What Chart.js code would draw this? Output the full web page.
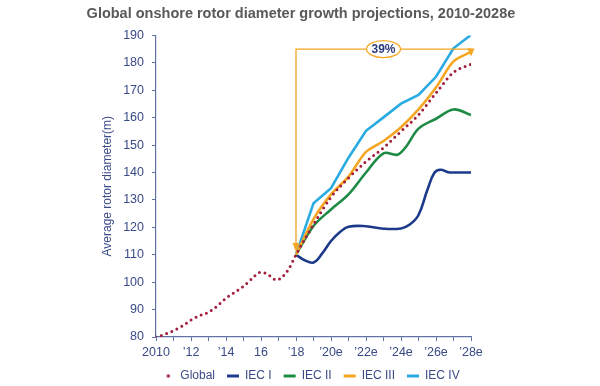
<!DOCTYPE html>
<html>
<head>
<meta charset="utf-8">
<script src="https://cdn.jsdelivr.net/npm/chart.js@4.4.1/dist/chart.umd.min.js"></script>
<style>
  html, body { margin: 0; padding: 0; background: #fff; }
  #wrap { width: 600px; height: 386px; }
</style>
</head>
<body>
<div id="wrap"><canvas id="chart"></canvas></div>
<script>
// values
const globalYears = [2010, 2010.5, 2011, 2011.5, 2012, 2012.5, 2013, 2013.5, 2014, 2014.5, 2015, 2015.5, 2015.95, 2016.3, 2016.9, 2017.2, 2017.6, 2018,
  2019, 2020, 2021, 2022, 2023, 2024, 2025, 2026, 2027, 2028];
const globalValues = [80, 81, 82.3, 84, 86.2, 87.8, 89, 91.3, 94.2, 96.3, 98.5, 101.4, 103.6, 103.2, 100.8, 101.8, 105, 110,
  121, 131, 138, 144, 149, 155, 161, 169, 176.5, 179.5];

const iec1Years = [2018, 2018.5, 2019, 2019.5, 2020, 2020.5, 2021, 2022, 2023, 2024, 2024.5, 2025, 2025.5, 2025.9, 2026.25, 2026.7, 2027, 2028];
const iec1Values = [110, 108, 107.2, 110.5, 115, 118.2, 120.2, 120.4, 119.5, 119.6, 121, 124.5, 133.5, 139.8, 141, 140.1, 140, 140];

const iec2Years = [2018, 2019, 2020, 2021, 2022, 2023, 2023.8, 2024.3, 2025, 2026, 2027, 2028];
const iec2Values = [110, 120.5, 126.5, 132, 140, 147, 146.5, 149.5, 156, 159.6, 163, 161];

const iec3Years = [2018, 2019, 2020, 2021, 2022, 2023, 2024, 2025, 2026, 2027, 2028];
const iec3Values = [110, 123, 132, 138.5, 147.5, 151.5, 156.5, 163, 171, 180.5, 184];

const iec4Years = [2018, 2019, 2020, 2021, 2022, 2023, 2024, 2025, 2026, 2027, 2028];
const iec4Values = [110, 128.8, 134.3, 145.4, 155.2, 160.1, 165.1, 168.3, 174.9, 185.3, 190.2];

const tickYears = [2010, 2012, 2014, 2016, 2018, 2020, 2022, 2024, 2026, 2028];
const tickLabels = ['2010', '’12', '’14', '16', '’18', '’20e', '’22e', '’24e', '’26e', '’28e'];

// the 39% bracket
const bracketFrom = 2018, bracketTo = 2028, bracketLevel = 185;
const bracketStartValue = 111, bracketEndValue = 182.3;
const bracketLabel = '39%', bracketLabelYear = 2023;

const pts = (xs, ys) => xs.map((x, i) => ({ x: x, y: ys[i] }));

const orange = '#F5A623';
const maroon = '#A21E3D';
const axisColor = '#6272A4';
const textColor = '#3A4A86';
const fontFamily = '"Liberation Sans", Arial, sans-serif';

Chart.defaults.font.family = fontFamily;
Chart.defaults.font.size = 12;

// small dot used as the legend marker of the dotted series
const dotMarker = document.createElement('canvas');
dotMarker.width = 12;
dotMarker.height = 4;
(function () {
  const c = dotMarker.getContext('2d');
  c.fillStyle = maroon;
  c.beginPath();
  c.arc(6, 2, 1.7, 0, Math.PI * 2);
  c.fill();
})();

const bracketPlugin = {
  id: 'bracket',
  afterDatasetsDraw(chart) {
    const { ctx, scales: { x, y } } = chart;
    const x0 = x.getPixelForValue(bracketFrom);
    const x1 = x.getPixelForValue(bracketTo);
    const yTop = y.getPixelForValue(bracketLevel);
    const yLeft = y.getPixelForValue(bracketStartValue);
    const yRight = y.getPixelForValue(bracketEndValue);
    ctx.save();
    ctx.strokeStyle = orange;
    ctx.fillStyle = orange;
    ctx.lineWidth = 1.3;
    ctx.beginPath();
    ctx.moveTo(x0, yLeft - 7);
    ctx.lineTo(x0, yTop);
    ctx.lineTo(x1, yTop);
    ctx.lineTo(x1, yRight - 6);
    ctx.stroke();
    // arrow heads
    const head = (px, py, w, h) => {
      ctx.beginPath();
      ctx.moveTo(px, py);
      ctx.lineTo(px - w / 2, py - h);
      ctx.lineTo(px + w / 2, py - h);
      ctx.closePath();
      ctx.fill();
    };
    head(x0, yLeft, 7, 9);
    head(x1, yRight, 7, 8);
    // label ellipse
    const cx = x.getPixelForValue(bracketLabelYear);
    ctx.beginPath();
    ctx.ellipse(cx, yTop, 17, 8.5, 0, 0, Math.PI * 2);
    ctx.fillStyle = '#fff';
    ctx.fill();
    ctx.stroke();
    ctx.fillStyle = '#2B3A7E';
    ctx.font = 'bold 12px ' + fontFamily;
    ctx.textAlign = 'center';
    ctx.textBaseline = 'middle';
    ctx.fillText(bracketLabel, cx, yTop + 0.5);
    ctx.restore();
  }
};

const lineSet = (label, xs, ys, color, order, tension) => ({
  label: label,
  data: pts(xs, ys),
  borderColor: color,
  backgroundColor: color,
  borderWidth: 2.6,
  pointRadius: 0,
  fill: false,
  tension: tension,
  order: order
});

const ctx = document.getElementById('chart').getContext('2d');
new Chart(ctx, {
  type: 'line',
  data: {
    datasets: [
      {
        label: 'Global',
        data: pts(globalYears, globalValues),
        borderColor: maroon,
        backgroundColor: maroon,
        borderWidth: 3,
        borderDash: [0, 5.6],
        borderCapStyle: 'round',
        pointRadius: 0,
        fill: false,
        cubicInterpolationMode: 'monotone',
        order: 0
      },
      lineSet('IEC I', iec1Years, iec1Values, '#1D3A8A', 4, 0.4),
      lineSet('IEC II', iec2Years, iec2Values, '#1E8B45', 3, 0.35),
      lineSet('IEC III', iec3Years, iec3Values, orange, 1, 0.3),
      lineSet('IEC IV', iec4Years, iec4Values, '#29ABE2', 2, 0)
    ]
  },
  options: {
    responsive: true,
    maintainAspectRatio: false,
    animation: false,
    layout: { padding: { left: 22, right: 0, top: 0, bottom: -6 } },
    scales: {
      x: {
        type: 'linear',
        min: 2010,
        max: 2028,
        afterFit: (s) => { s.height = 21; },
        grid: { drawOnChartArea: false, drawTicks: true, tickLength: 4, color: axisColor },
        border: { display: true, color: axisColor, width: 1.2 },
        ticks: {
          stepSize: 1,
          autoSkip: false,
          maxRotation: 0,
          padding: 4,
          color: textColor,
          font: { size: 12.5 },
          callback: (v) => {
            const i = tickYears.indexOf(v);
            return i >= 0 ? tickLabels[i] : '';
          }
        }
      },
      y: {
        min: 80,
        max: 190,
        afterFit: (s) => { s.width = 134; },
        grid: { drawOnChartArea: false, drawTicks: true, tickLength: 4, color: axisColor },
        border: { display: true, color: axisColor, width: 1.2 },
        ticks: {
          stepSize: 10,
          padding: 8,
          color: textColor,
          font: { size: 12.5 }
        },
        title: {
          display: true,
          text: 'Average rotor diameter(m)',
          color: textColor,
          padding: { top: 78, bottom: 0 },
          font: { size: 12 }
        }
      },
      // empty right-hand strip, keeps the plot area where the reference has it
      spacer: {
        type: 'linear',
        position: 'right',
        afterFit: (s) => { s.width = 129; },
        grid: { display: false },
        border: { display: false },
        ticks: { display: false }
      }
    },
    plugins: {
      title: {
        display: true,
        text: 'Global onshore rotor diameter growth projections, 2010-2028e     ',
        color: '#595959',
        padding: { top: 5, bottom: 13 },
        font: { size: 14.5, weight: 'bold' }
      },
      legend: {
        position: 'bottom',
        labels: {
          color: textColor,
          usePointStyle: true,
          pointStyleWidth: 12,
          boxHeight: 3,
          padding: 12,
          font: { size: 12 },
          sort: (a, b) => a.datasetIndex - b.datasetIndex,
          generateLabels: (chart) => {
            const items = Chart.defaults.plugins.legend.labels.generateLabels(chart);
            return items.map((it) => {
              it.lineDash = [];
              if (it.datasetIndex === 0) {
                it.pointStyle = dotMarker;
                it.lineWidth = 0;
              } else {
                it.pointStyle = 'line';
                it.lineWidth = 3;
              }
              return it;
            });
          }
        }
      },
      tooltip: { enabled: false }
    }
  },
  plugins: [bracketPlugin]
});
</script>
</body>
</html>
